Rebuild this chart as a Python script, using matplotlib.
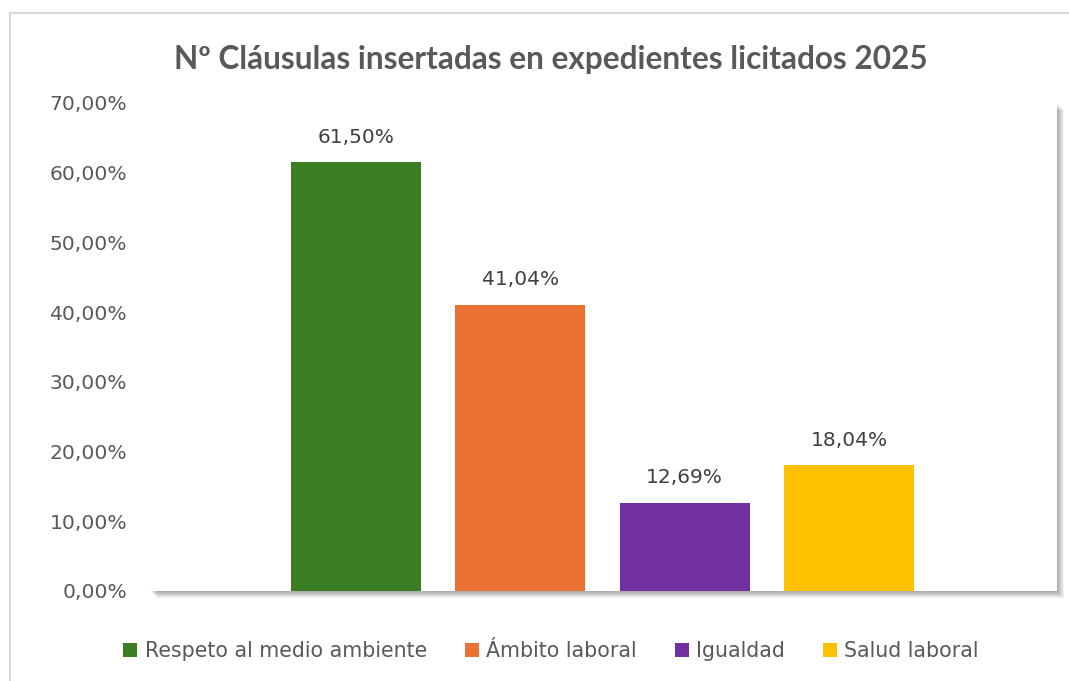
import matplotlib
matplotlib.use("Agg")
import matplotlib.pyplot as plt
from matplotlib.patches import Rectangle
from matplotlib.lines import Line2D

categories = ["Respeto al medio ambiente", "Ámbito laboral", "Igualdad", "Salud laboral"]
values = [61.50, 41.04, 12.69, 18.04]
colors = ["#3B7D23", "#E97132", "#7030A0", "#FFC000"]
yticks = [0, 10, 20, 30, 40, 50, 60, 70]
title = "Nº Cláusulas insertadas en expedientes licitados 2025"

W, H = 1069, 681
fig = plt.figure(figsize=(W / 100, H / 100), dpi=100)
fig.patch.set_facecolor("white")

TXT = "#595959"

# outer chart border (left and top visible)
fig.add_artist(Line2D([10 / W, 10 / W], [0, 1 - 13 / H], color="#d9d9d9", lw=1.5, transform=fig.transFigure))
fig.add_artist(Line2D([10 / W, 1], [1 - 13 / H, 1 - 13 / H], color="#d9d9d9", lw=1.5, transform=fig.transFigure))

left, right, top, bottom = 150, 1057, 103, 591
ax_rect = [left / W, 1 - bottom / H, (right - left) / W, (bottom - top) / H]

# soft shadow behind plot area
for i in range(7, 0, -1):
    off = i * 1.0
    fig.add_artist(Rectangle(((left + off) / W, 1 - (bottom + off) / H), (right - left) / W, (bottom - top) / H,
                             transform=fig.transFigure, facecolor="#000000", alpha=0.05, edgecolor="none", zorder=0))

ax = fig.add_axes(ax_rect)
ax.set_facecolor("white")
ax.set_zorder(1)

x = list(range(len(categories)))
bars = ax.bar(x, values, width=0.79, color=colors, label=categories, zorder=2)

ax.set_xlim(-1.252, 4.264)
ax.set_ylim(0, 70)
ax.set_yticks(yticks)
ax.set_yticklabels([f"{v:.2f}".replace(".", ",") + "%" for v in yticks], color=TXT, fontsize=14.6)
ax.tick_params(axis="y", length=0, pad=16.5)
ax.set_xticks([])
for s in ax.spines.values():
    s.set_visible(False)

for xi, v in zip(x, values):
    ax.annotate(f"{v:.2f}".replace(".", ",") + "%", (xi, v), xytext=(0, 18), textcoords="offset points",
                ha="center", va="center", fontsize=14.5, color="#404040")

fig.text(551 / W, 1 - 59 / H, title, ha="center", va="center", fontsize=22.7, fontweight="bold",
         color=TXT, family=["Lato", "DejaVu Sans"])

leg = fig.legend(handles=list(bars), labels=categories, loc="center", bbox_to_anchor=(551 / W, 1 - 651 / H),
                 ncol=4, frameon=False, fontsize=14.8, handlelength=0.67, handleheight=0.67,
                 handletextpad=0.36, columnspacing=1.85, labelcolor=TXT)

fig.savefig("out.png", dpi=100, facecolor="white")
